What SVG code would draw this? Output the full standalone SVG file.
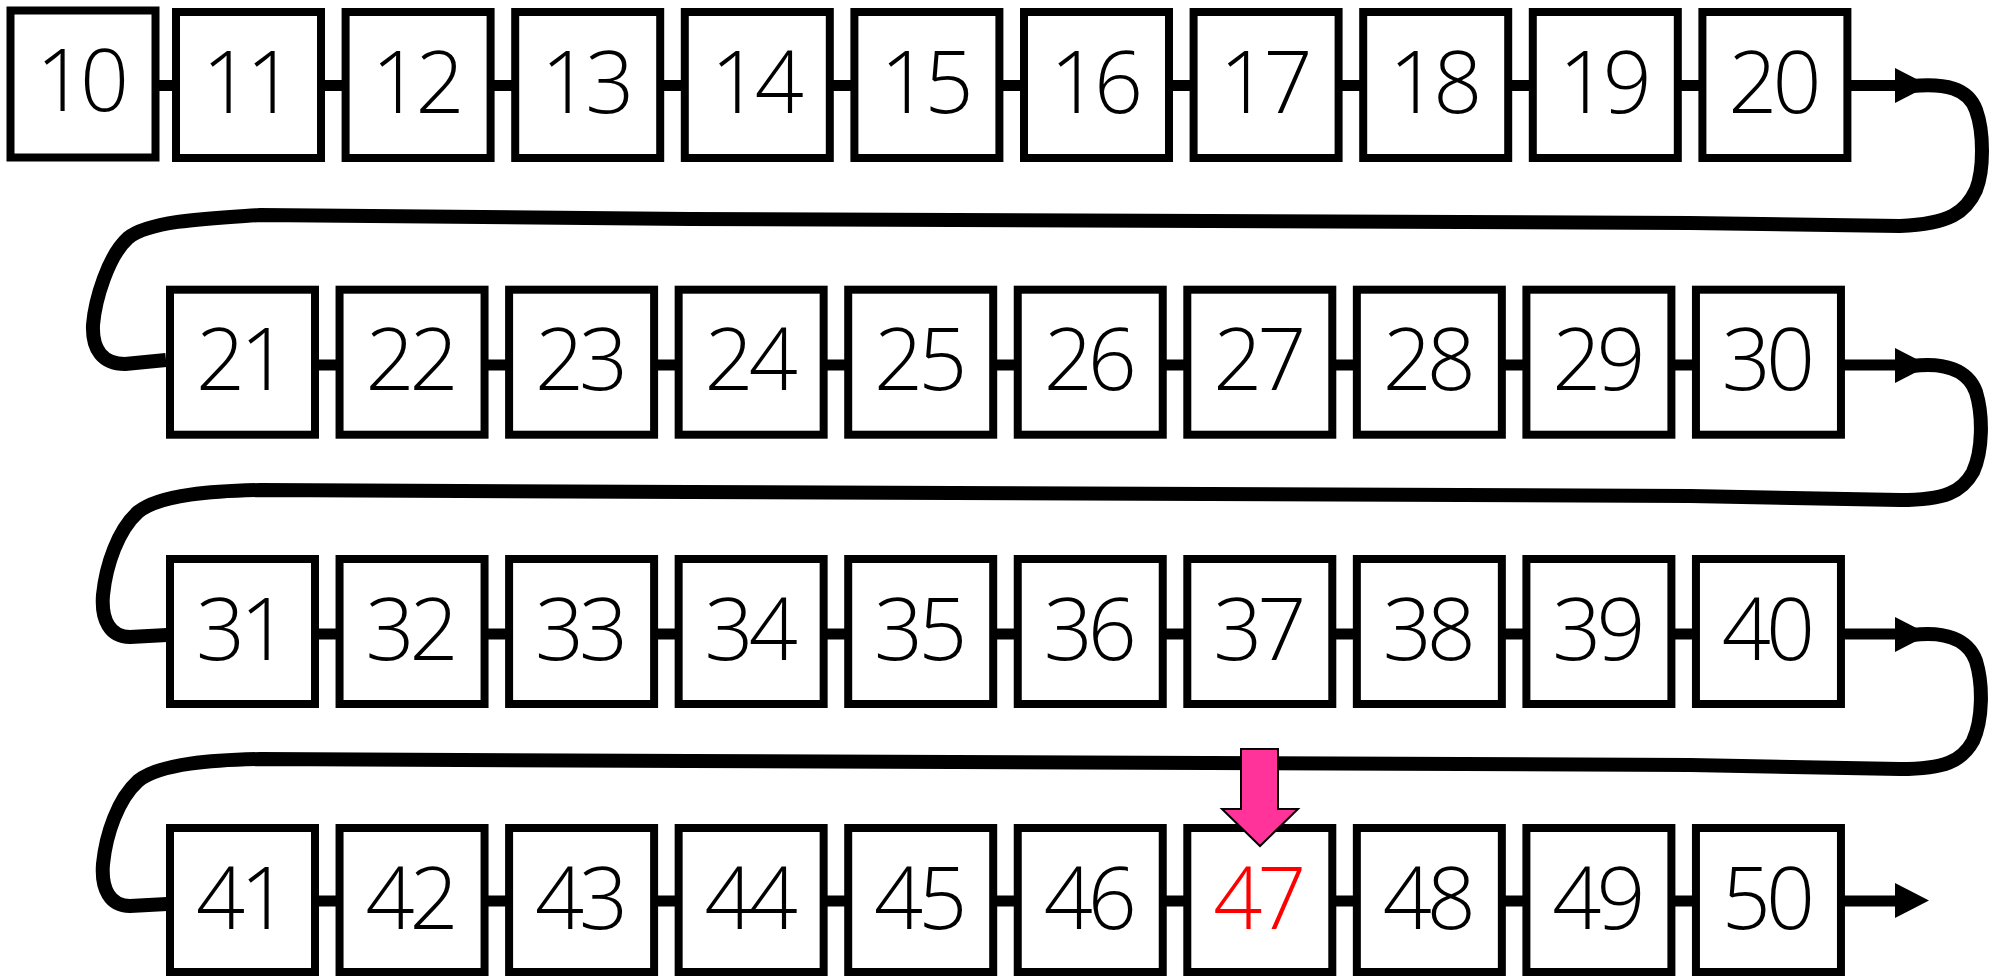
<svg xmlns="http://www.w3.org/2000/svg" width="2001" height="976" viewBox="0 0 2001 976">
<style>
.box{fill:#fff;stroke:#000;stroke-width:8}
.num{font-family:"Open Sans","Liberation Sans",sans-serif;font-weight:300;font-size:86px;letter-spacing:-5px;text-anchor:middle;fill:#000}
.red{fill:#ff0000}
.bar{stroke:#000;stroke-width:11;fill:none}
.snake{stroke:#000;stroke-width:14;fill:none;stroke-linecap:butt;stroke-linejoin:round}
.head{fill:#000}
</style>
<rect width="2001" height="976" fill="#fff"/>
<g id="connectors">
<path class="bar" d="M155,85.5H176M321,85.5H345.6M490.6,85.5H515.2M660.2,85.5H684.8M829.8,85.5H854.4M999.4,85.5H1024M1169,85.5H1193.6M1338.6,85.5H1363.2M1508.2,85.5H1532.8M1677.8,85.5H1702.4M1847.4,85.5H1897"/>
<polygon class="head" points="1895,68 1929,85.5 1895,103"/>
<path class="bar" d="M315,365H339.55M484.55,365H509.1M654.1,365H678.65M823.65,365H848.2M993.2,365H1017.75M1162.75,365H1187.3M1332.3,365H1356.85M1501.85,365H1526.4M1671.4,365H1695.95M1840.95,365H1897"/>
<polygon class="head" points="1895,348 1929,365.5 1895,383"/>
<path class="bar" d="M315,634H339.55M484.55,634H509.1M654.1,634H678.65M823.65,634H848.2M993.2,634H1017.75M1162.75,634H1187.3M1332.3,634H1356.85M1501.85,634H1526.4M1671.4,634H1695.95M1840.95,634H1897"/>
<polygon class="head" points="1895,617 1929,634.5 1895,652"/>
<path class="bar" d="M315,901H339.55M484.55,901H509.1M654.1,901H678.65M823.65,901H848.2M993.2,901H1017.75M1162.75,901H1187.3M1332.3,901H1356.85M1501.85,901H1526.4M1671.4,901H1695.95M1840.95,901H1897"/>
<polygon class="head" points="1895,883 1929,900.5 1895,918"/>
<path class="snake" d="M1912,86 C1945,83 1968,88 1976,110 C1984,132 1984,170 1976,190 C1966,212 1950,224 1900,226 L1690,223 L690,219 L260,215 C215,218 150,220 128,238 C108,256 95,300 93,325 C92,350 103,364 125,364 L166,360"/>
<path class="snake" d="M1912,366 C1945,362 1968,370 1976,392 C1983,415 1983,450 1973,472 C1962,492 1945,500 1900,500 L1690,496 L690,492 L260,490 C215,491 160,494 138,512 C118,530 106,565 103,595 C101,620 110,637 130,637 L167,635"/>
<path class="snake" transform="translate(0,269)" d="M1912,366 C1945,362 1968,370 1976,392 C1983,415 1983,450 1973,472 C1962,492 1945,500 1900,500 L1690,496 L690,492 L260,490 C215,491 160,494 138,512 C118,530 106,565 103,595 C101,620 110,637 130,637 L167,635"/>
</g>
<g id="n10"><rect class="box" x="10.5" y="10.5" width="145" height="147"/><text class="num" x="80" y="111">10</text></g>
<g id="n11"><rect class="box" x="176" y="12" width="145" height="146"/><text class="num" x="246" y="113">11</text></g>
<g id="n12"><rect class="box" x="345.6" y="12" width="145" height="146"/><text class="num" x="415.6" y="113">12</text></g>
<g id="n13"><rect class="box" x="515.2" y="12" width="145" height="146"/><text class="num" x="585.2" y="113">13</text></g>
<g id="n14"><rect class="box" x="684.8" y="12" width="145" height="146"/><text class="num" x="754.8" y="113">14</text></g>
<g id="n15"><rect class="box" x="854.4" y="12" width="145" height="146"/><text class="num" x="924.4" y="113">15</text></g>
<g id="n16"><rect class="box" x="1024" y="12" width="145" height="146"/><text class="num" x="1094" y="113">16</text></g>
<g id="n17"><rect class="box" x="1193.6" y="12" width="145" height="146"/><text class="num" x="1263.6" y="113">17</text></g>
<g id="n18"><rect class="box" x="1363.2" y="12" width="145" height="146"/><text class="num" x="1433.2" y="113">18</text></g>
<g id="n19"><rect class="box" x="1532.8" y="12" width="145" height="146"/><text class="num" x="1602.8" y="113">19</text></g>
<g id="n20"><rect class="box" x="1702.4" y="12" width="145" height="146"/><text class="num" x="1772.4" y="113">20</text></g>
<g id="n21"><rect class="box" x="170" y="289.7" width="145" height="145"/><text class="num" x="240" y="390">21</text></g>
<g id="n22"><rect class="box" x="339.55" y="289.7" width="145" height="145"/><text class="num" x="409.55" y="390">22</text></g>
<g id="n23"><rect class="box" x="509.1" y="289.7" width="145" height="145"/><text class="num" x="579.1" y="390">23</text></g>
<g id="n24"><rect class="box" x="678.65" y="289.7" width="145" height="145"/><text class="num" x="748.65" y="390">24</text></g>
<g id="n25"><rect class="box" x="848.2" y="289.7" width="145" height="145"/><text class="num" x="918.2" y="390">25</text></g>
<g id="n26"><rect class="box" x="1017.75" y="289.7" width="145" height="145"/><text class="num" x="1087.75" y="390">26</text></g>
<g id="n27"><rect class="box" x="1187.3" y="289.7" width="145" height="145"/><text class="num" x="1257.3" y="390">27</text></g>
<g id="n28"><rect class="box" x="1356.85" y="289.7" width="145" height="145"/><text class="num" x="1426.85" y="390">28</text></g>
<g id="n29"><rect class="box" x="1526.4" y="289.7" width="145" height="145"/><text class="num" x="1596.4" y="390">29</text></g>
<g id="n30"><rect class="box" x="1695.95" y="289.7" width="145" height="145"/><text class="num" x="1765.95" y="390">30</text></g>
<g id="n31"><rect class="box" x="170" y="559" width="145" height="145"/><text class="num" x="240" y="659.5">31</text></g>
<g id="n32"><rect class="box" x="339.55" y="559" width="145" height="145"/><text class="num" x="409.55" y="659.5">32</text></g>
<g id="n33"><rect class="box" x="509.1" y="559" width="145" height="145"/><text class="num" x="579.1" y="659.5">33</text></g>
<g id="n34"><rect class="box" x="678.65" y="559" width="145" height="145"/><text class="num" x="748.65" y="659.5">34</text></g>
<g id="n35"><rect class="box" x="848.2" y="559" width="145" height="145"/><text class="num" x="918.2" y="659.5">35</text></g>
<g id="n36"><rect class="box" x="1017.75" y="559" width="145" height="145"/><text class="num" x="1087.75" y="659.5">36</text></g>
<g id="n37"><rect class="box" x="1187.3" y="559" width="145" height="145"/><text class="num" x="1257.3" y="659.5">37</text></g>
<g id="n38"><rect class="box" x="1356.85" y="559" width="145" height="145"/><text class="num" x="1426.85" y="659.5">38</text></g>
<g id="n39"><rect class="box" x="1526.4" y="559" width="145" height="145"/><text class="num" x="1596.4" y="659.5">39</text></g>
<g id="n40"><rect class="box" x="1695.95" y="559" width="145" height="145"/><text class="num" x="1765.95" y="659.5">40</text></g>
<g id="n41"><rect class="box" x="170" y="828" width="145" height="144"/><text class="num" x="240" y="929">41</text></g>
<g id="n42"><rect class="box" x="339.55" y="828" width="145" height="144"/><text class="num" x="409.55" y="929">42</text></g>
<g id="n43"><rect class="box" x="509.1" y="828" width="145" height="144"/><text class="num" x="579.1" y="929">43</text></g>
<g id="n44"><rect class="box" x="678.65" y="828" width="145" height="144"/><text class="num" x="748.65" y="929">44</text></g>
<g id="n45"><rect class="box" x="848.2" y="828" width="145" height="144"/><text class="num" x="918.2" y="929">45</text></g>
<g id="n46"><rect class="box" x="1017.75" y="828" width="145" height="144"/><text class="num" x="1087.75" y="929">46</text></g>
<g id="n47"><rect class="box" x="1187.3" y="828" width="145" height="144"/><text class="num red" x="1257.3" y="929">47</text></g>
<g id="n48"><rect class="box" x="1356.85" y="828" width="145" height="144"/><text class="num" x="1426.85" y="929">48</text></g>
<g id="n49"><rect class="box" x="1526.4" y="828" width="145" height="144"/><text class="num" x="1596.4" y="929">49</text></g>
<g id="n50"><rect class="box" x="1695.95" y="828" width="145" height="144"/><text class="num" x="1765.95" y="929">50</text></g>
<g id="pointer"><polygon points="1241,749 1278,749 1278,809 1298,809 1260,846 1222,809 1241,809" fill="#ff3399" stroke="#000" stroke-width="2"/></g>
</svg>
